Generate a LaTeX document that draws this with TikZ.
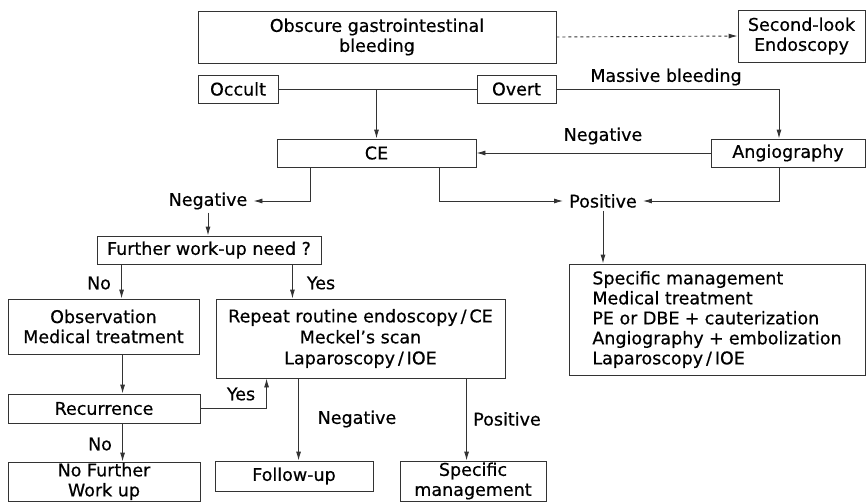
\documentclass[tikz,border=0pt]{standalone}
\usepackage{fontspec}
\setmainfont{DejaVu Sans}[FakeBold=0.5]
\usetikzlibrary{arrows.meta}
\begin{document}
\begin{tikzpicture}[x=1pt,y=-1pt,
  every node/.style={font=\fontsize{17.5}{20}\selectfont, text=black},
  box/.style={draw=black!80, line width=0.9pt, align=center, inner sep=0pt},
  lbl/.style={inner sep=0pt},
  arr/.style={draw=black!80, line width=0.9pt, -{Latex[length=9pt,width=5pt]}},
  ln/.style={draw=black!80, line width=0.9pt}]
\useasboundingbox (0,0) rectangle (867,503);
\fill[white] (0,0) rectangle (867,503);
% boxes
\node[box, minimum width=358pt, minimum height=52pt] (obg) at (377,37) {Obscure gastrointestinal\\bleeding};
\node[box, minimum width=127pt, minimum height=52pt] (slook) at (801.5,36) {Second-look\\Endoscopy};
\node[box, minimum width=80pt, minimum height=28pt] (occult) at (238,89) {Occult};
\node[box, minimum width=79pt, minimum height=28pt] (overt) at (516.5,89) {Overt};
\node[box, minimum width=199pt, minimum height=28pt] (ce) at (376.5,153) {CE};
\node[box, minimum width=154pt, minimum height=28pt] (angio) at (788,153) {Angiography};
\node[lbl, inner xsep=6pt, inner ysep=3pt] (neg1) at (208,201) {Negative};
\node[lbl, inner xsep=6pt, inner ysep=3pt] (pos1) at (603,201) {Positive};
\node[box, minimum width=224pt, minimum height=28pt] (further) at (209,250) {Further work-up need ?};
\node[box, minimum width=296pt, minimum height=111pt, align=left] (specm) at (717,319.5) {Specific management\\Medical treatment\\PE or DBE\hspace{0.3em}+\hspace{0.3em}cauterization\\Angiography\hspace{0.3em}+\hspace{0.3em}embolization\\Laparoscopy\,/\,IOE};
\node[box, minimum width=191pt, minimum height=55pt] (obs) at (103.5,326.5) {Observation\\Medical treatment};
\node[box, minimum width=289pt, minimum height=79pt, font=\fontsize{17.5}{21}\selectfont] (repeat) at (360.5,338.5) {Repeat routine endoscopy\,/\,CE\\Meckel’s scan\\Laparoscopy\,/\,IOE};
\node[box, minimum width=192pt, minimum height=29pt] (recur) at (104,408.5) {Recurrence};
\node[box, minimum width=192pt, minimum height=39pt] (nofurther) at (104,481.5) {No Further\\Work up};
\node[box, minimum width=158pt, minimum height=30pt] (follow) at (294,476) {Follow-up};
\node[box, minimum width=146pt, minimum height=40pt] (specific) at (473,481) {Specific\\management};
% labels
\node[lbl] (massive) at (666,77) {Massive bleeding};
\node[lbl] (negA) at (603,136) {Negative};
\node[lbl] (noA) at (99,283) {No};
\node[lbl] (yesA) at (321,283) {Yes};
\node[lbl] (yesB) at (241,394) {Yes};
\node[lbl] (noB) at (100,444) {No};
\node[lbl] (negB) at (357,419) {Negative};
\node[lbl] (posB) at (507,419) {Positive};
% helper coordinates
\coordinate (ceL) at ([xshift=34pt]ce.south west);
\coordinate (ceR) at ([xshift=-37pt]ce.south east);
\coordinate (angT) at ([xshift=-9pt]angio.north);
\coordinate (angB) at ([xshift=-9pt]angio.south);
\coordinate (fNo) at ([xshift=25pt]further.south west);
\coordinate (fYes) at ([xshift=-29pt]further.south east);
\coordinate (obsB) at ([xshift=115pt]obs.south west);
\coordinate (repY) at ([xshift=51pt]repeat.south west);
\coordinate (repN) at ([xshift=83pt]repeat.south west);
\coordinate (repP) at ([xshift=251pt]repeat.south west);
% connectors
\draw[arr, dash pattern=on 3pt off 3pt] (obg.east) -- (slook.west);
\draw[ln] (occult.east) -- (overt.west);
\draw[arr] (ce.north |- occult.east) -- (ce.north);
\draw[arr] (overt.east) -| (angT);
\draw[arr] (angio.west) -- (ce.east);
\draw[arr] (ceL) |- (neg1.east);
\draw[arr] (ceR) |- (pos1.west);
\draw[arr] (angB) |- (pos1.east);
\draw[arr] (pos1.south) -- (pos1.south |- specm.north);
\draw[arr] (neg1.south) -- (neg1.south |- further.north);
\draw[arr] (fNo) -- (fNo |- obs.north);
\draw[arr] (fYes) -- (fYes |- repeat.north);
\draw[arr] (obsB) -- (obsB |- recur.north);
\draw[arr] (recur.east) -| (repY);
\draw[arr] (obsB |- recur.south) -- (obsB |- nofurther.north);
\draw[arr] (repN) -- (repN |- follow.north);
\draw[arr] (repP) -- (repP |- specific.north);
\end{tikzpicture}
\end{document}
